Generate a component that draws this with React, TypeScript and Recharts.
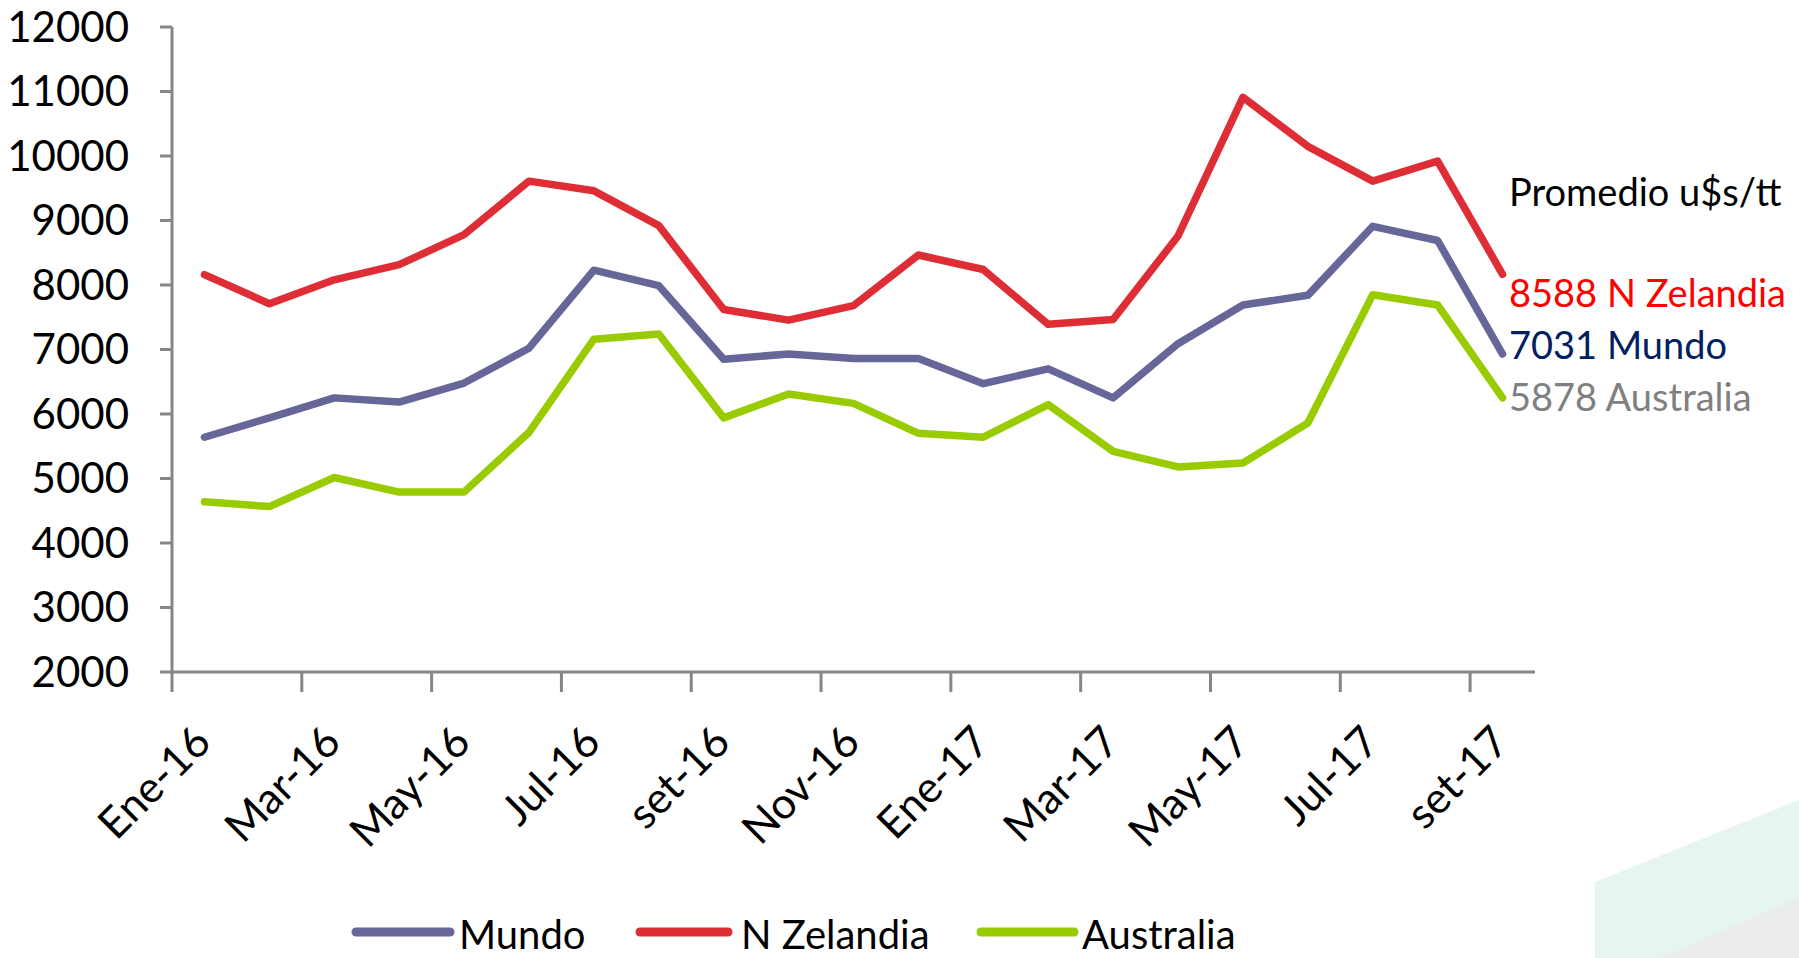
import React from 'react';
import { LineChart, Line, XAxis, YAxis } from 'recharts';

const categories = [
  'Ene-16', 'Feb-16', 'Mar-16', 'Abr-16', 'May-16', 'Jun-16', 'Jul-16', 'Ago-16', 'set-16', 'Oct-16', 'Nov-16',
  'Dic-16', 'Ene-17', 'Feb-17', 'Mar-17', 'Abr-17', 'May-17', 'Jun-17', 'Jul-17', 'Ago-17', 'set-17',
];
const mundo = [5640, 5940, 6250, 6185, 6480, 7020, 8230, 7990, 6850, 6930, 6860, 6860, 6470, 6700, 6250, 7090, 7690, 7840, 8910, 8690, 6930];
const nZelandia = [8160, 7710, 8080, 8315, 8780, 9610, 9460, 8920, 7620, 7455, 7680, 8465, 8240, 7390, 7465, 8760, 10910, 10150, 9610, 9920, 8165];
const australia = [4640, 4565, 5015, 4790, 4790, 5715, 7160, 7240, 5940, 6310, 6165, 5700, 5640, 6145, 5420, 5180, 5240, 5860, 7850, 7690, 6250];
const yTicks = [2000, 3000, 4000, 5000, 6000, 7000, 8000, 9000, 10000, 11000, 12000];

const seriesNames = ['Mundo', 'N Zelandia', 'Australia'];
const seriesKeys = ['mundo', 'nz', 'aus'];
const seriesColors = ['#666699', '#DE2D35', '#99CC00'];

const averageTitle = 'Promedio u$s/tt';
const averageLabels = ['8588 N Zelandia', '7031 Mundo', '5878 Australia'];
const averageColors = ['#FF0000', '#002060', '#808080'];

const data = categories.map((c, i) => ({ cat: c, mundo: mundo[i], nz: nZelandia[i], aus: australia[i] }));

const W = 1799;
const H = 958;
const PLOT_LEFT = 172;
const PLOT_RIGHT = 1535;
const PLOT_TOP = 27;
const PLOT_BOTTOM = 672;
const BAND = (PLOT_RIGHT - PLOT_LEFT) / categories.length;
const FONT = 'Lato, "Open Sans", sans-serif';
const AXIS = '#868686';

const XTick = (props: any) => {
  const { x, y, payload } = props;
  const ax = x - 2;
  const ay = y + 62;
  return (
    <g>
      <line x1={x - BAND / 2} x2={x - BAND / 2} y1={y} y2={y + 20} stroke={AXIS} strokeWidth={3} />
      <text
        x={ax}
        y={ay}
        dy="0.35em"
        textAnchor="end"
        transform={`rotate(-45 ${ax} ${ay})`}
        fill="#000"
        fontSize={43}
        fontFamily={FONT}
      >
        {payload.value}
      </text>
    </g>
  );
};

const legendLayout = [
  { x1: 356, x2: 450, tx: 459 },
  { x1: 640, x2: 728, tx: 741 },
  { x1: 981, x2: 1074, tx: 1082 },
];

export default function App() {
  return (
    <div style={{ position: 'absolute', left: 0, top: 0, width: W, height: H, background: '#fff', overflow: 'hidden' }}>
      <svg width={W} height={H} style={{ position: 'absolute', left: 0, top: 0 }}>
        <polygon points="1595,882 1799,800 1799,958 1595,958" fill="#E6F5EF" />
        <polygon points="1660,958 1799,897 1799,958" fill="#EBEDEC" />
      </svg>
      <div style={{ position: 'absolute', left: 0, top: 0 }}>
        <LineChart
          width={W}
          height={H}
          data={data}
          margin={{ top: PLOT_TOP, right: W - PLOT_RIGHT, bottom: 0, left: 0 }}
        >
          <XAxis
            dataKey="cat"
            interval={1}
            height={H - PLOT_BOTTOM}
            padding={{ left: BAND / 2, right: BAND / 2 }}
            tickSize={0}
            tickMargin={0}
            tickLine={false}
            axisLine={{ stroke: AXIS, strokeWidth: 3 }}
            tick={(p: any) => <XTick {...p} />}
          />
          <YAxis
            type="number"
            domain={[2000, 12000]}
            ticks={yTicks}
            interval={0}
            width={PLOT_LEFT}
            tickSize={12}
            tickMargin={31}
            axisLine={{ stroke: AXIS, strokeWidth: 3 }}
            tickLine={{ stroke: AXIS, strokeWidth: 3 }}
            tick={{ fill: '#000', fontSize: 42, fontFamily: FONT }}
          />
          {seriesKeys.map((k, i) => (
            <Line
              key={k}
              type="linear"
              dataKey={k}
              name={seriesNames[i]}
              stroke={seriesColors[i]}
              strokeWidth={7.5}
              strokeLinejoin="round"
              strokeLinecap="round"
              dot={false}
              activeDot={false}
              isAnimationActive={false}
            />
          ))}
        </LineChart>
      </div>
      <svg width={W} height={H} style={{ position: 'absolute', left: 0, top: 0, pointerEvents: 'none' }}>
        <text x={1509} y={206} fontSize={38} fontFamily={FONT} fill="#000">{averageTitle}</text>
        {averageLabels.map((t, i) => (
          <text key={t} x={1509} y={307 + i * 52} fontSize={38} fontFamily={FONT} fill={averageColors[i]}>{t}</text>
        ))}
        {seriesNames.map((n, i) => (
          <g key={n}>
            <line
              x1={legendLayout[i].x1}
              x2={legendLayout[i].x2}
              y1={932}
              y2={932}
              stroke={seriesColors[i]}
              strokeWidth={9}
              strokeLinecap="round"
            />
            <text x={legendLayout[i].tx} y={949} fontSize={40} fontFamily={FONT} fill="#000">{n}</text>
          </g>
        ))}
      </svg>
    </div>
  );
}
